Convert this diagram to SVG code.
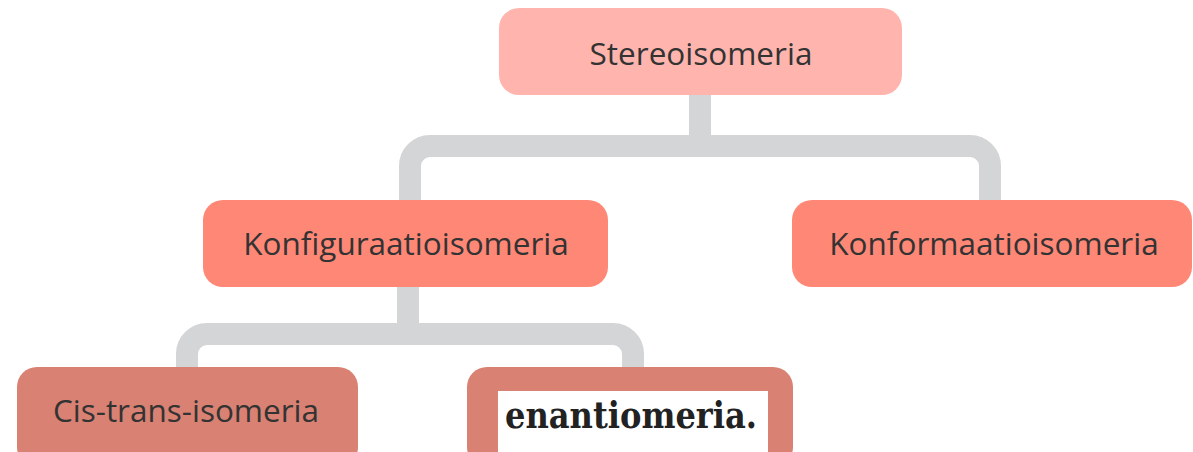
<svg xmlns="http://www.w3.org/2000/svg" width="1193" height="452" viewBox="0 0 1193 452">
<style>
.conn{fill:none;stroke:#D4D5D7;stroke-width:22}
.lbl{font-family:"Open Sans","Noto Sans",sans-serif;font-size:31.5px;fill:#333;text-anchor:middle}
</style>
<rect width="1193" height="452" fill="#fff"/>
<g id="connectors">
<path class="conn" d="M700 95 V146"/>
<path class="conn" d="M410 200 V166 A20 20 0 0 1 430 146 H970 A20 20 0 0 1 990 166 V200"/>
<path class="conn" d="M408 287 V334"/>
<path class="conn" d="M187 367 V354 A20 20 0 0 1 207 334 H613 A20 20 0 0 1 633 354 V367"/>
</g>
<g id="stereoisomeria">
<rect x="499" y="8" width="403" height="87" rx="20" fill="#FFB5AE"/>
<text class="lbl" x="701" y="65">Stereoisomeria</text>
</g>
<g id="konfiguraatioisomeria">
<rect x="203" y="200" width="405" height="87" rx="20" fill="#FF8776"/>
<text class="lbl" x="406" y="255">Konfiguraatioisomeria</text>
</g>
<g id="konformaatioisomeria">
<rect x="792" y="200" width="400" height="87" rx="20" fill="#FF8776"/>
<text class="lbl" x="994" y="255">Konformaatioisomeria</text>
</g>
<g id="cis-trans">
<rect x="17" y="367" width="341" height="100" rx="20" fill="#D98172"/>
<text class="lbl" x="186" y="422">Cis-trans-isomeria</text>
</g>
<g id="enantiomeria">
<rect x="467" y="367" width="326" height="100" rx="20" fill="#D98172"/>
<rect x="498" y="391" width="270" height="61" fill="#fff"/>
<text x="505" y="428" font-family="DejaVu Serif,serif" font-weight="bold" font-size="37" fill="#222" textLength="252" lengthAdjust="spacingAndGlyphs">enantiomeria.</text>
</g>
</svg>
